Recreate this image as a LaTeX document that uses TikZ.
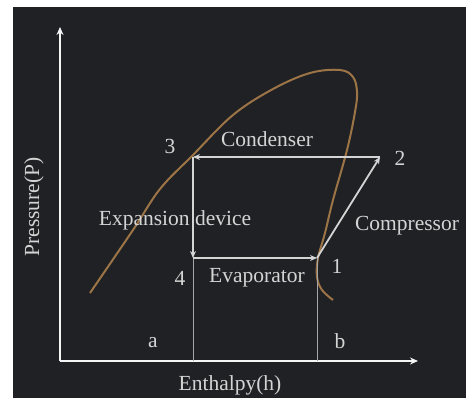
\documentclass[tikz,border=0pt]{standalone}
\usepackage{fontspec}
\setmainfont{Liberation Serif}
\usepackage{xcolor}
\usetikzlibrary{arrows.meta, positioning}
\definecolor{board}{HTML}{1F2125}
\definecolor{chalk}{HTML}{D4D4D4}
\definecolor{dome}{HTML}{9C7446}
\tikzstyle{tag}   = [text=chalk, inner sep=0pt, font=\fontsize{21.5}{24}\selectfont]
\tikzstyle{arrow} = [chalk, line width=1.8pt, -{Stealth[length=7pt,width=6pt]}]
\tikzstyle{axis}  = [white!92!gray, line width=2pt, -{Stealth[length=8pt,width=7pt]}]
\tikzstyle{guide} = [gray!70, line width=0.6pt]

\begin{document}
\begin{tikzpicture}[x=1pt, y=-1pt]
    \useasboundingbox (0,0) rectangle (466,398);
    \fill[white] (0,0) rectangle (466,398);
    \fill[board] (13,7) rectangle (466,398);
    % axes
    \coordinate (o)    at (60,361);
    \coordinate (ytop) at (60,27);
    \coordinate (xend) at (418,361);
    \draw [axis] (o) -- (ytop);
    \draw [axis] (o) -- (xend);
    % saturation dome
    \draw [dome, line width=2pt] plot [smooth, tension=0.6] coordinates {
        (90,293) (133,230) (160,189) (193,155) (233,115) (273,89) (310,73)
        (340,70) (353,77) (357,92) (355,112) (347,150) (333,200) (325,233)
        (318,258) (317,277) (322,290) (333,300)};
    % cycle states
    \coordinate (s1) at (317,258);
    \coordinate (s2) at (380,157);
    \coordinate (s3) at (193,157);
    \coordinate (s4) at (193,258);
    \coordinate (fa) at (193,361);
    \coordinate (fb) at (317,361);
    \draw [guide] (s4) -- (fa);
    \draw [guide] (s1) -- (fb);
    \draw [arrow] (s1) -- (s2);
    \draw [arrow] (s2) -- (s3);
    \draw [arrow] (s3) -- (s4);
    \draw [arrow] (s4) -- (s1);
    % labels
    \node (n1)    [tag] at (337,266) {1};
    \node (n2)    [tag] at (400,158) {2};
    \node (n3)    [tag] at (170,146) {3};
    \node (n4)    [tag] at (180,278) {4};
    \node (cond)  [tag] at (267,139) {Condenser};
    \node (expd)  [tag] at (175,220) {Expansion device};
    \node (comp)  [tag] at (407,226) {Compressor};
    \node (evap)  [tag] at (257,278) {Evaporator};
    \node (la)    [tag] at (153,343) {a};
    \node (lb)    [tag] at (340,341) {b};
    \node (hlab)  [tag] at (230,385) {Enthalpy(h)};
    \node (plab)  [tag, rotate=90] at (34,207) {Pressure(P)};
\end{tikzpicture}
\end{document}
